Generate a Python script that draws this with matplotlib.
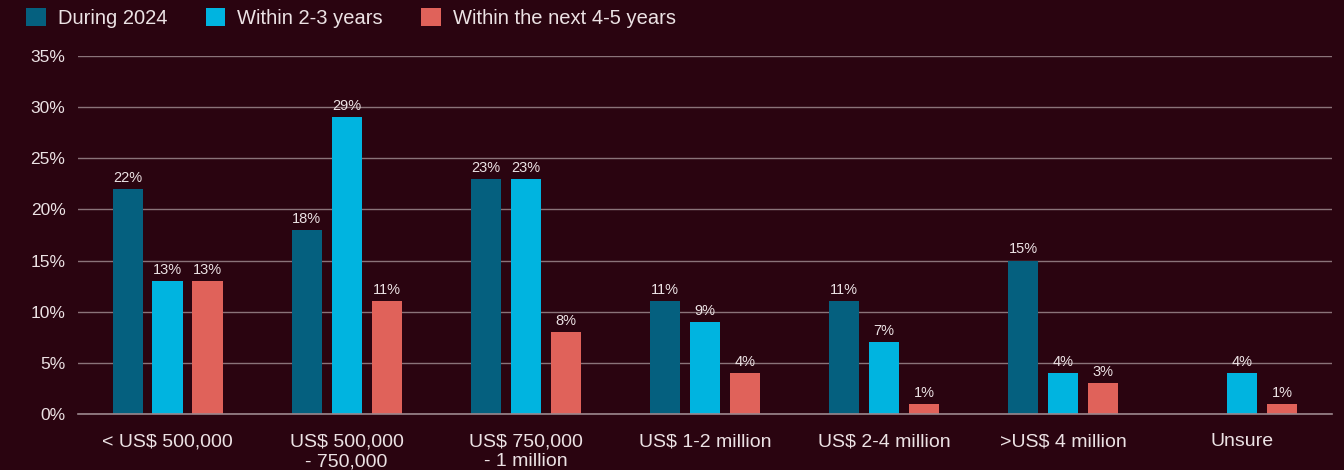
import numpy as np
import matplotlib.pyplot as plt
from matplotlib.patches import Patch

categories = ["< US$ 500,000", "US$ 500,000\n- 750,000", "US$ 750,000\n- 1 million",
              "US$ 1-2 million", "US$ 2-4 million", ">US$ 4 million", "Unsure"]
during_2024 = [22, 18, 23, 11, 11, 15, 0]
within_2_3 = [13, 29, 23, 9, 7, 4, 4]
within_4_5 = [13, 11, 8, 4, 1, 3, 1]
series_names = ["During 2024", "Within 2-3 years", "Within the next 4-5 years"]

colors = ["#05607f", "#00b4e0", "#e0625a"]
bg = "#2a0410"
text_col = "#ece2e4"
grid_col = "#8a7379"

plt.rcParams["font.family"] = ["Liberation Sans", "DejaVu Sans"]

fig = plt.figure(figsize=(13.44, 4.70), dpi=100, facecolor=bg)
ax = fig.add_axes([0.058, 0.1191, 0.933, 0.7618], facecolor=bg)

x = np.arange(len(categories))
width = 0.168
step = 0.223

for i, (vals, c) in enumerate(zip([during_2024, within_2_3, within_4_5], colors)):
    pos = x + (i - 1) * step
    for p, v in zip(pos, vals):
        if v == 0:
            continue
        ax.bar(p, v, width=width, color=c, zorder=3)
        ax.text(p, v + 0.4, f"{v}%", ha="center", va="bottom",
                color=text_col, fontsize=10.5, zorder=4)

ax.set_xlim(-0.5, len(categories) - 0.5)
ax.set_ylim(0, 35)
ax.set_yticks(range(0, 36, 5))
ax.set_yticklabels([f"{t}%" for t in range(0, 36, 5)])
ax.set_xticks(x)
ax.set_xticklabels(categories, linespacing=1.2)
ax.tick_params(axis="y", length=0, pad=9, labelsize=12.5, labelcolor=text_col)
ax.tick_params(axis="x", length=0, pad=14, labelsize=14, labelcolor=text_col)

ax.grid(axis="y", color=grid_col, linewidth=1.0, zorder=0)
ax.grid(axis="x", visible=False)
ax.axhline(0, color="#9c878d", linewidth=1.2, zorder=4, clip_on=False)
for s in ax.spines.values():
    s.set_visible(False)

handles = [Patch(facecolor=c, edgecolor="none") for c in colors]
fig.legend(handles, series_names, loc="upper left",
           bbox_to_anchor=(26 / 1344, 1 - 8 / 470),
           ncol=3, frameon=False, fontsize=14.5, labelcolor=text_col,
           handlelength=0.98, handleheight=1.0, handletextpad=0.6,
           columnspacing=1.9, borderpad=0.0, borderaxespad=0.0)

fig.savefig("out.png", dpi=100, facecolor=bg)
